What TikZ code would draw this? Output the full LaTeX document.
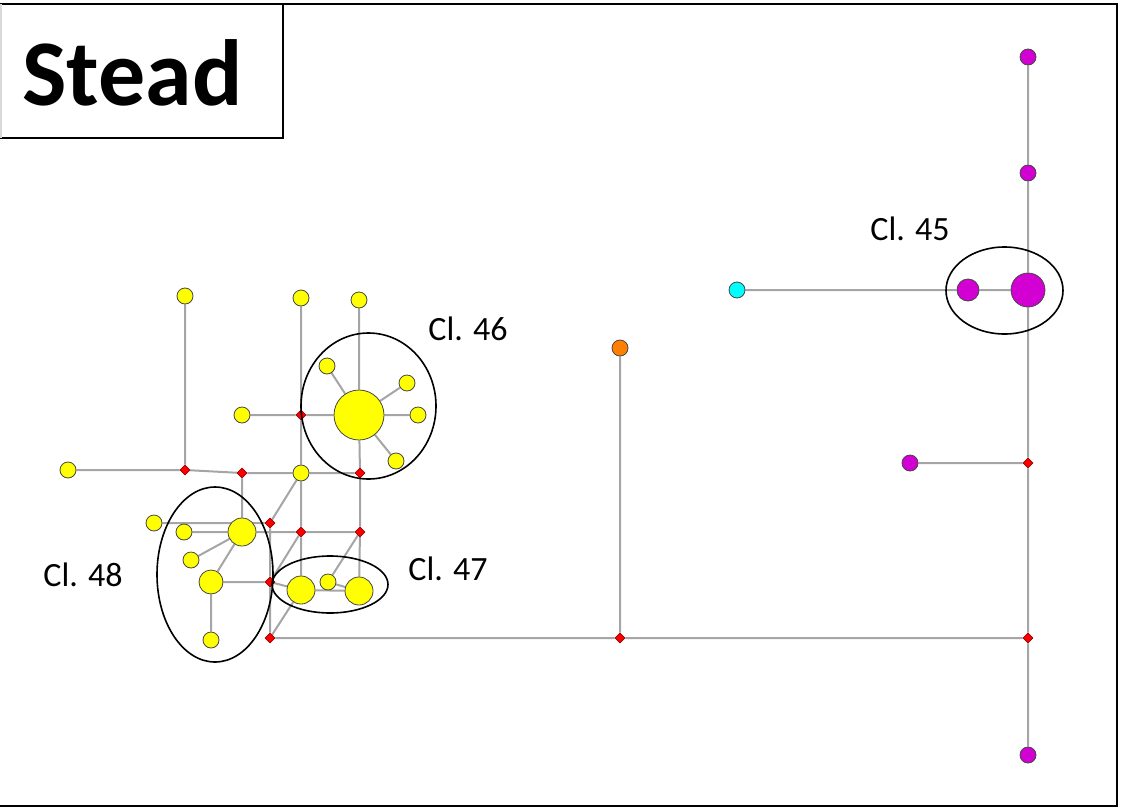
\documentclass[tikz,border=0pt]{standalone}
\usepackage{fontspec}
\setmainfont{Carlito}
\usetikzlibrary{shapes.geometric,backgrounds}

\definecolor{yel}{RGB}{255,255,0}
\definecolor{mag}{RGB}{210,0,210}
\definecolor{cya}{RGB}{0,255,255}
\definecolor{ora}{RGB}{255,128,0}
\definecolor{edgegray}{RGB}{165,165,165}
\definecolor{rimgray}{RGB}{70,70,70}

\begin{document}
\begin{tikzpicture}[x=0.5pt, y=-0.5pt,
    dot/.style={circle, draw=rimgray, line width=0.4pt, inner sep=0pt, minimum size=8pt},
    leaf/.style={dot, fill=yel},
    hub/.style={dot, fill=yel, minimum size=#1},
    magdot/.style={dot, fill=mag, minimum size=#1},
    junct/.style={diamond, draw=red!60!black, line width=0.3pt, fill=red, inner sep=0pt, minimum size=5pt},
    link/.style={draw=edgegray, line width=1pt},
    ring/.style={draw=black, line width=0.8pt},
    lab/.style={font=\fontsize{17}{20}\selectfont, anchor=base}]
  \useasboundingbox (0,0) rectangle (1125,809);
  % ---------------------------------------------------------------- frame and title
  \draw[line width=1.3pt] (0,4) -- (1117,4) -- (1117,806) -- (0,806);
  \draw[line width=0.9pt] (0,138) -- (283,138) -- (283,4);
  \draw[black!15, line width=0.6pt] (1,4) -- (1,138);
  \node[font=\fontsize{47}{50}\selectfont\bfseries, anchor=base] (title) at (132.5,105) {Stead};
  % ---------------------------------------------------------------- junctions
  \foreach \n/\x/\y in {j1/185/470, j2/242/473, j3/360/473, j4/301/415, j5/270/523, j6/301/532,
                        j7/360/532, j8/270/582, j9/270/638, j10/620/638, j11/1028/638, j12/1028/463}
    \node[junct] (\n) at (\x,\y) {};
  % ---------------------------------------------------------------- yellow leaves
  \foreach \n/\x/\y in {y1/185/296, y2/301/298, y3/359/300, s1/327/366, s2/407/383, s3/418/415,
                        s4/396/461, y4/242/415, y5/301/473, y6/68/470, y7/154/523, y8/184/532,
                        y9/191/560, y10/211/640}
    \node[leaf] (\n) at (\x,\y) {};
  % the large ones
  \node[hub=25pt] (c46) at (359,415) {};
  \node[hub=14pt] (c48a) at (242,532) {};
  \node[hub=12pt] (c48b) at (211,582) {};
  \node[hub=14pt] (c47a) at (301,590) {};
  \node[hub=8pt] (c47b) at (328,582) {};
  \node[hub=14pt] (c47c) at (359,591) {};
  % ---------------------------------------------------------------- the others
  \node[dot, fill=ora] (or) at (620,348) {};
  \node[dot, fill=cya] (cy) at (737,290) {};
  \node[magdot=8pt] (m1) at (1028,57) {};
  \node[magdot=8pt] (m2) at (1028,173) {};
  \node[magdot=11pt] (m3) at (968,290) {};
  \node[magdot=17pt] (c45) at (1028,290) {};
  \node[magdot=8pt] (m4) at (910,463) {};
  \node[magdot=8pt] (m5) at (1028,755) {};
  % ---------------------------------------------------------------- links, behind the nodes
  \begin{scope}[on background layer]
    \path[link] (y1) -- (j1) (y6) -- (j1) (j1) -- (j2) (j2) -- (y5) (y5) -- (j3) (j2) -- (c48a)
      (y2) -- (j4) (j4) -- (y5) (y4) -- (j4) (j4) -- (c46) (y3) -- (c46) (c46) -- (j3)
      (c46) -- (s1) (c46) -- (s2) (c46) -- (s3) (c46) -- (s4)
      (y5) -- (j5) (y5) -- (j6) (j3) -- (j7)
      (y7) -- (j5) (y8) -- (c48a) (c48a) -- (j6) (j6) -- (j7)
      (c48a) -- (y9) (c48a) -- (c48b) (c48b) -- (j8) (c48b) -- (y10)
      (j5) -- (j8) (j8) -- (j9) (j8) -- (c47a) (j6) -- (j8) (j6) -- (c47a)
      (j7) -- (c47b) (j7) -- (c47c) (c47a) -- (c47c) (c47b) -- (c47c) (c47a) -- (j9)
      (j9) -- (j10) (j10) -- (j11) (or) -- (j10)
      (m1) -- (m2) (m2) -- (c45) (c45) -- (j12) (j12) -- (j11) (j11) -- (m5)
      (cy) -- (m3) (m3) -- (c45) (m4) -- (j12);
  \end{scope}
  % ---------------------------------------------------------------- clusters
  \draw[ring] (368.5,406) ellipse [x radius=67.5, y radius=73];
  \draw[ring] (215,574.5) ellipse [x radius=58, y radius=87.5];
  \draw[ring] (330,584.5) ellipse [x radius=58, y radius=28.5];
  \draw[ring] (1004.5,290.5) ellipse [x radius=58.5, y radius=43.5];
  \node[lab] (l46) at (468,340) {Cl. 46};
  \node[lab] (l45) at (910,240) {Cl. 45};
  \node[lab] (l47) at (448,580) {Cl. 47};
  \node[lab] (l48) at (83,586) {Cl. 48};
\end{tikzpicture}
\end{document}
